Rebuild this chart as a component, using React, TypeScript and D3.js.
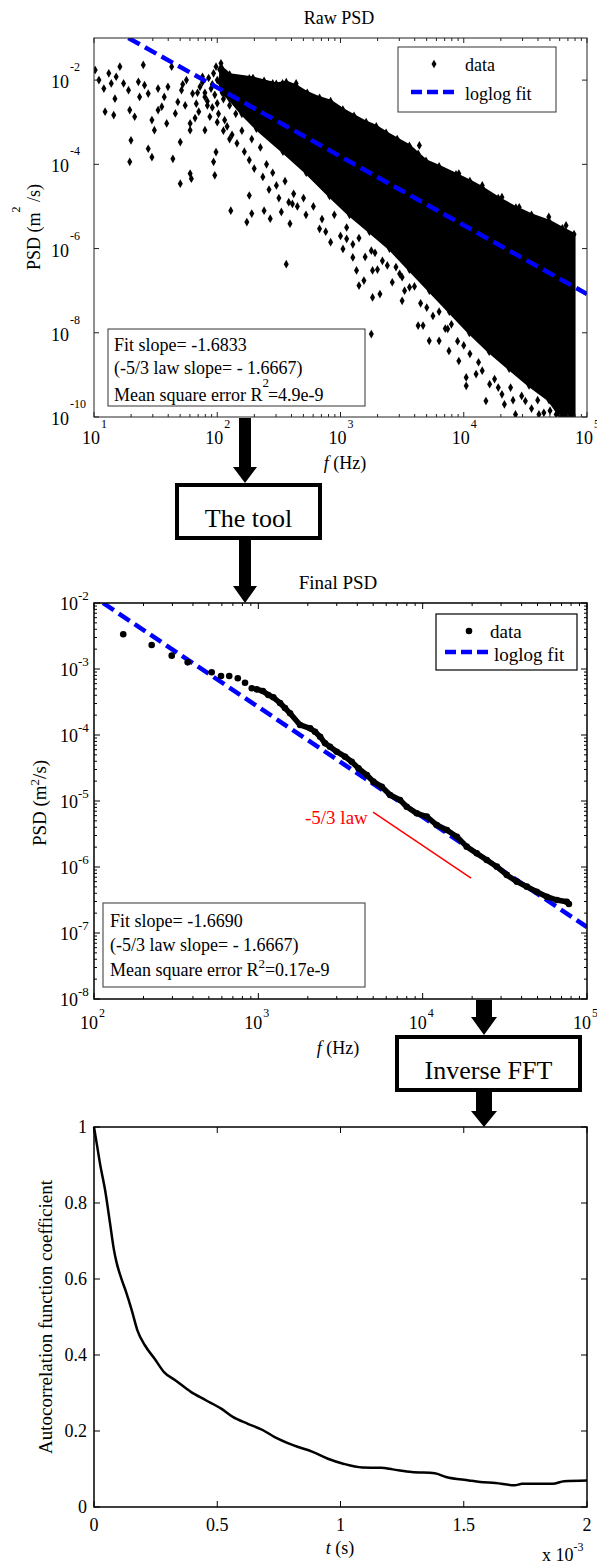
import React from 'react';
import * as d3 from 'd3';

const FONT = '"Liberation Serif", "Times New Roman", Times, serif';

// ---------- Raw PSD (values as [log10 f(Hz), log10 PSD]) ----------
const RAW_X_DECADES = [1, 2, 3, 4, 5];
const RAW_Y_DECADES = [-10, -8, -6, -4, -2];
const RAW_CLOUD_UPPER: [number, number][] = [
  [2.02, -2.05], [2.034, -1.7], [2.101, -1.87], [2.29, -1.95], [2.38, -2.02], [2.479, -2.09], [2.56, -2.05],
  [2.641, -2.14], [2.73, -2.3], [2.83, -2.42], [2.92, -2.5], [3.019, -2.7], [3.11, -2.85], [3.208, -3.0],
  [3.29, -3.1], [3.37, -3.25], [3.46, -3.4], [3.559, -3.56], [3.63, -3.75], [3.694, -3.92], [3.8, -4.05],
  [3.937, -4.24], [4.05, -4.4], [4.152, -4.56], [4.28, -4.8], [4.423, -5.03], [4.55, -5.2],
  [4.692, -5.35], [4.8, -5.52], [4.895, -5.66],
];
const RAW_CLOUD_LOWER: [number, number][] = [
  [4.895, -10.05], [4.8, -10.05], [4.692, -9.6], [4.53, -9.25], [4.368, -8.85], [4.206, -8.45],
  [4.045, -8.0], [3.883, -7.5], [3.721, -7.0], [3.559, -6.5], [3.397, -6.0], [3.235, -5.6],
  [3.073, -5.2], [2.911, -4.75], [2.722, -4.2], [2.533, -3.7], [2.317, -3.15], [2.2, -2.8], [2.1, -2.45],
  [2.04, -2.3],
];
const RAW_SCATTER: [number, number][] = [
  [1.01, -1.76], [1.04, -2.0], [1.08, -2.2], [1.12, -1.84], [1.14, -2.08], [1.18, -1.92], [1.21, -1.68],
  [1.24, -2.08], [1.17, -2.44], [1.09, -2.75], [1.16, -2.83], [1.28, -2.24], [1.29, -2.71], [1.33, -2.87],
  [1.36, -2.04], [1.37, -2.4], [1.4, -1.64], [1.41, -2.12], [1.44, -2.32], [1.47, -2.95], [1.49, -3.19],
  [1.52, -2.2], [1.55, -2.63], [1.57, -2.4], [1.6, -2.16], [1.63, -1.68], [1.66, -2.79], [1.68, -2.52],
  [1.71, -2.24], [1.75, -2.0], [1.78, -3.03], [1.8, -2.32], [1.83, -2.56], [1.86, -2.16], [1.3, -3.43],
  [1.29, -3.94], [1.44, -3.63], [1.47, -3.83], [1.64, -3.87], [1.7, -3.47], [1.7, -4.46], [1.78, -4.22],
  [1.79, -4.34], [1.98, -4.26], [1.97, -3.94], [1.99, -3.71], [1.9, -3.19], [1.94, -2.87], [1.78, -3.19],
  [1.59, -3.03], [1.52, -2.71], [1.88, -1.92], [1.9, -2.4], [1.92, -2.6], [1.85, -2.75], [2.0, -3.0],
  [2.05, -3.2], [2.1, -3.4], [1.96, -2.1], [1.72, -2.1], [1.74, -2.6], [1.82, -2.9], [1.84, -2.3],
  [1.88, -2.05], [1.9, -2.3], [1.92, -2.5], [1.93, -1.95], [1.95, -2.2], [1.96, -2.65], [1.98, -2.35],
  [2.0, -2.0], [2.0, -2.55], [2.01, -2.8], [2.02, -1.75], [2.04, -2.25], [2.05, -2.45], [2.06, -2.95],
  [2.07, -2.1], [2.08, -3.1], [2.1, -2.6], [2.12, -3.3], [2.13, -2.0], [2.15, -2.8], [2.16, -3.5],
  [2.18, -2.3], [2.2, -3.2], [2.22, -3.7], [2.24, -2.6], [2.26, -3.9], [2.28, -3.4], [2.3, -4.1],
  [2.32, -3.0], [2.35, -3.6], [2.37, -4.3], [2.4, -4.0], [2.42, -4.6], [2.45, -4.2], [2.48, -4.5],
  [2.5, -4.8], [2.55, -4.4], [2.58, -4.9], [2.62, -4.7], [2.65, -5.0], [2.7, -4.8], [2.72, -5.2],
  [2.78, -5.0], [2.85, -5.3], [2.88, -5.6], [2.95, -5.2], [3.0, -5.7], [3.05, -5.5], [3.1, -5.9],
  [3.15, -5.75], [3.2, -6.2], [3.28, -6.1], [3.3, -6.5], [3.38, -6.4], [3.42, -6.8], [3.48, -6.6],
  [3.52, -7.0], [3.6, -6.9], [3.65, -7.3], [3.7, -7.4], [3.75, -7.6], [3.8, -7.5], [3.85, -7.9],
  [3.9, -7.8], [3.95, -8.2], [4.0, -8.3], [4.05, -8.5], [4.12, -8.7], [4.15, -8.9], [4.25, -9.1],
  [4.28, -9.3], [4.38, -9.3], [4.4, -9.6], [4.47, -9.5], [4.55, -9.8], [4.6, -9.6], [4.65, -9.9],
  [4.7, -9.85], [4.78, -9.95], [4.85, -9.95],
  [2.11, -5.1], [2.24, -5.37], [2.28, -5.17], [2.26, -4.74], [2.38, -5.1], [2.43, -5.29], [2.52, -5.13],
  [2.59, -5.41], [2.61, -4.94], [2.83, -5.53], [2.92, -5.85], [3.05, -5.77], [3.02, -6.01], [3.1, -6.21],
  [3.13, -6.52], [3.25, -6.05], [3.26, -6.52], [3.26, -7.16], [3.32, -7.08], [3.15, -6.88], [3.19, -6.76],
  [3.34, -6.29], [3.45, -6.44], [3.5, -6.68], [3.56, -6.92], [3.5, -7.24], [3.63, -7.83], [3.67, -7.83],
  [3.72, -8.19], [3.8, -8.19], [3.88, -8.43], [3.87, -7.91], [3.96, -8.67], [4.02, -9.06], [4.02, -9.26],
  [4.1, -8.98], [4.21, -9.22], [4.18, -9.62], [4.31, -9.46], [4.33, -9.7], [4.42, -9.94], [4.5, -9.62],
  [4.61, -9.94], [4.75, -9.94], [2.56, -6.37], [3.25, -8.03],
  [4.15, -4.5], [4.31, -4.78], [4.45, -5.02], [4.69, -5.25], [4.83, -5.45], [3.96, -4.22], [3.64, -3.55],
  [2.53, -2.08], [2.64, -2.08], [2.45, -2.08], [2.26, -1.96], [2.29, -2.08], [1.99, -1.68], [2.03, -1.6],
  [2.05, -1.84], [1.97, -1.84],
];
const RAW_FIT: [number, number][] = [[19, 1e-1], [1e5, 8.3e-8]];

// ---------- Final PSD ----------
const FIN_X_DECADES = [2, 3, 4, 5];
const FIN_Y_DECADES = [-8, -7, -6, -5, -4, -3, -2];
const FIN_DATA: [number, number][] = [
  [2.178, -2.474], [2.351, -2.636], [2.473, -2.798], [2.57, -2.899], [2.716, -3.05], [2.773, -3.106],
  [2.823, -3.106], [2.875, -3.141], [2.919, -3.208], [2.96, -3.292], [2.99, -3.308], [3.027, -3.333],
  [3.061, -3.394], [3.091, -3.429], [3.132, -3.515], [3.162, -3.591], [3.193, -3.671], [3.254, -3.848],
  [3.315, -3.899], [3.345, -3.95], [3.376, -4.026], [3.406, -4.126], [3.436, -4.177], [3.477, -4.253],
  [3.528, -4.329], [3.568, -4.405], [3.609, -4.505], [3.66, -4.606], [3.7, -4.707], [3.751, -4.783],
  [3.802, -4.909], [3.862, -4.985], [3.903, -5.086], [3.964, -5.187], [4.025, -5.237], [4.086, -5.364],
  [4.147, -5.439], [4.208, -5.541], [4.268, -5.692], [4.329, -5.793], [4.39, -5.894], [4.451, -5.995],
  [4.512, -6.121], [4.573, -6.222], [4.634, -6.298], [4.694, -6.374], [4.755, -6.45], [4.816, -6.5],
  [4.877, -6.526], [4.89, -6.56],
];
const FIN_FIT: [number, number][] = [[113.5, 1e-2], [1e5, 1.23e-7]];
const LAW_LINE: [number, number][] = [[4990, 6.8e-6], [19700, 6.8e-7]];

// ---------- Autocorrelation ----------
const ACF_T_MS = [0, 0.011, 0.024, 0.045, 0.065, 0.08, 0.091, 0.111, 0.13, 0.153, 0.176, 0.207, 0.246, 0.284,
  0.331, 0.393, 0.454, 0.516, 0.563, 0.624, 0.686, 0.733, 0.81, 0.887, 0.949, 1.011, 1.088, 1.165, 1.212,
  1.289, 1.382, 1.428, 1.521, 1.567, 1.629, 1.706, 1.737, 1.861, 1.907, 2.0];
const ACF_VAL = [1.0, 0.957, 0.905, 0.834, 0.747, 0.68, 0.645, 0.601, 0.566, 0.518, 0.465, 0.425, 0.39, 0.355,
  0.333, 0.303, 0.281, 0.259, 0.237, 0.219, 0.202, 0.184, 0.162, 0.145, 0.127, 0.114, 0.104, 0.103, 0.099,
  0.092, 0.089, 0.079, 0.07, 0.066, 0.063, 0.057, 0.061, 0.061, 0.068, 0.07];
const ACF_X_TICKS = [0, 0.5, 1, 1.5, 2];
const ACF_Y_TICKS = [0, 0.2, 0.4, 0.6, 0.8, 1];

const TOP = { l: 94, r: 587, t: 38, b: 417 };
const MID = { l: 94, r: 587, t: 603, b: 999 };
const BOT = { l: 94, r: 587, t: 1127, b: 1507 };

const diamond = d3.symbol().type(d3.symbolDiamond).size(22)() as string;

function Arrow({ x, y0, tip, shaftW, headW, headH }: any) {
  const hb = tip - headH;
  const d = `M${x - shaftW / 2},${y0} L${x + shaftW / 2},${y0} L${x + shaftW / 2},${hb} L${x + headW / 2},${hb} L${x},${tip} L${x - headW / 2},${hb} L${x - shaftW / 2},${hb} Z`;
  return <path d={d} fill="#000" />;
}

function logMinor(decades: number[]) {
  const out: number[] = [];
  for (let i = 0; i < decades.length - 1; i++) {
    for (let m = 2; m <= 9; m++) out.push(m * Math.pow(10, decades[i]));
  }
  return out;
}

export default function App() {
  const xT = d3.scaleLog().domain([10, 1e5]).range([TOP.l, TOP.r]);
  const yT = d3.scaleLog().domain([1e-10, 1e-1]).range([TOP.b, TOP.t]);
  const xM = d3.scaleLog().domain([100, 1e5]).range([MID.l, MID.r]);
  const yM = d3.scaleLog().domain([1e-8, 1e-2]).range([MID.b, MID.t]);
  const xB = d3.scaleLinear().domain([0, 2]).range([BOT.l, BOT.r]);
  const yB = d3.scaleLinear().domain([0, 1]).range([BOT.b, BOT.t]);

  const cloud = [...RAW_CLOUD_UPPER, ...RAW_CLOUD_LOWER];
  const cloudPath = d3.line<[number, number]>()
    .x((d) => xT(Math.pow(10, d[0])))
    .y((d) => yT(Math.pow(10, d[1])))(cloud) + 'Z';

  const finLine = d3.line<[number, number]>()
    .x((d) => xM(Math.pow(10, d[0])))
    .y((d) => yM(Math.pow(10, d[1])))(FIN_DATA.filter((d) => d[0] >= 2.99));

  const acfLine = d3.line<number>()
    .x((_, i) => xB(ACF_T_MS[i]))
    .y((d) => yB(d))
    .curve(d3.curveMonotoneX)(ACF_VAL);

  const axisCol = '#222';
  const lbl = 18;
  const sup = 12;

  return (
    <div style={{ position: 'absolute', left: 0, top: 0 }}>
      <svg width={597} height={1564} style={{ display: 'block', fontFamily: FONT }}>
        <rect x={0} y={0} width={597} height={1564} fill="#fff" />
        <defs>
          <clipPath id="cTop"><rect x={TOP.l} y={TOP.t} width={TOP.r - TOP.l} height={TOP.b - TOP.t} /></clipPath>
          <clipPath id="cMid"><rect x={MID.l} y={MID.t} width={MID.r - MID.l} height={MID.b - MID.t} /></clipPath>
        </defs>

        {/* ================= TOP: Raw PSD ================= */}
        <text x={339} y={24} fontSize={18} textAnchor="middle">Raw PSD</text>
        <g clipPath="url(#cTop)">
          <path d={cloudPath} fill="#000" stroke="#000" strokeWidth={3} strokeLinejoin="round" />
          {[...RAW_SCATTER, ...RAW_CLOUD_UPPER, ...RAW_CLOUD_LOWER].map((d, i) => (
            <path key={i} d={diamond} fill="#000"
              transform={`translate(${xT(Math.pow(10, d[0]))},${yT(Math.pow(10, d[1]))})`} />
          ))}
          <line x1={xT(RAW_FIT[0][0])} y1={yT(RAW_FIT[0][1])} x2={xT(RAW_FIT[1][0])} y2={yT(RAW_FIT[1][1])}
            stroke="#0000ff" strokeWidth={4.5} strokeDasharray="13,6" />
        </g>
        <rect x={TOP.l} y={TOP.t} width={TOP.r - TOP.l} height={TOP.b - TOP.t} fill="none" stroke={axisCol} strokeWidth={1} />
        {RAW_X_DECADES.map((e) => {
          const x = xT(Math.pow(10, e));
          return (
            <g key={'tx' + e}>
              <line x1={x} x2={x} y1={TOP.b} y2={TOP.b - 5} stroke={axisCol} />
              <line x1={x} x2={x} y1={TOP.t} y2={TOP.t + 5} stroke={axisCol} />
              <text x={x + 6} y={444} fontSize={lbl} textAnchor="end">10</text>
              <text x={x + 7} y={428} fontSize={sup}>{e}</text>
            </g>
          );
        })}
        {logMinor(RAW_X_DECADES).map((v, i) => {
          const x = xT(v);
          return (
            <g key={'tmx' + i}>
              <line x1={x} x2={x} y1={TOP.b} y2={TOP.b - 3} stroke={axisCol} />
              <line x1={x} x2={x} y1={TOP.t} y2={TOP.t + 3} stroke={axisCol} />
            </g>
          );
        })}
        {RAW_Y_DECADES.map((e) => {
          const y = yT(Math.pow(10, e));
          return (
            <g key={'ty' + e}>
              <line x1={TOP.l} x2={TOP.l + 5} y1={y} y2={y} stroke={axisCol} />
              <line x1={TOP.r} x2={TOP.r - 5} y1={y} y2={y} stroke={axisCol} />
              <text x={69} y={y + 8} fontSize={lbl} textAnchor="end">10</text>
              <text x={70} y={y - 9} fontSize={sup}>{e}</text>
            </g>
          );
        })}
        <text x={345} y={469} fontSize={lbl} textAnchor="middle"><tspan fontStyle="italic">f</tspan> (Hz)</text>
        <text transform="translate(40,227) rotate(-90)" fontSize={lbl} textAnchor="middle">
          PSD (m<tspan dy={-20} fontSize={sup}>2</tspan><tspan dy={20}> /s)</tspan>
        </text>
        {/* legend */}
        <rect x={398} y={47} width={158} height={65} fill="#fff" stroke="#333" strokeWidth={1} />
        <path d={diamond} fill="#000" transform="translate(434,64)" />
        <text x={465} y={71} fontSize={lbl}>data</text>
        <line x1={411} x2={455} y1={92} y2={92} stroke="#0000ff" strokeWidth={4.5} strokeDasharray="11,5" />
        <text x={465} y={100} fontSize={lbl}>loglog fit</text>
        {/* stats box */}
        <rect x={108} y={329} width={257} height={77} fill="#fff" stroke="#333" strokeWidth={1} />
        <text x={114} y={351} fontSize={lbl}>Fit slope= -1.6833</text>
        <text x={114} y={374} fontSize={lbl}>(-5/3 law slope= - 1.6667)</text>
        <text x={114} y={401} fontSize={lbl}>Mean square error R<tspan dy={-14} fontSize={sup + 1}>2</tspan><tspan dy={14} dx={-1}>=4.9e-9</tspan></text>

        {/* ================= Flow: The tool ================= */}
        <Arrow x={245} y0={418} tip={483} shaftW={12} headW={24} headH={16} />
        <rect x={177} y={485} width={143} height={53} fill="#fff" stroke="#000" strokeWidth={4} />
        <text x={248.5} y={527} fontSize={26} textAnchor="middle">The tool</text>
        <Arrow x={245} y0={540} tip={603} shaftW={12} headW={24} headH={17} />

        {/* ================= MIDDLE: Final PSD ================= */}
        <text x={338} y={589} fontSize={19} textAnchor="middle">Final PSD</text>
        <g clipPath="url(#cMid)">
          <line x1={xM(FIN_FIT[0][0])} y1={yM(FIN_FIT[0][1])} x2={xM(FIN_FIT[1][0])} y2={yM(FIN_FIT[1][1])}
            stroke="#0000ff" strokeWidth={4.5} strokeDasharray="13,6" />
          <path d={finLine as string} fill="none" stroke="#000" strokeWidth={5.5} strokeLinejoin="round" strokeLinecap="round" />
          {FIN_DATA.map((d, i) => (
            <circle key={i} cx={xM(Math.pow(10, d[0]))} cy={yM(Math.pow(10, d[1]))} r={3.3} fill="#000" />
          ))}
          <line x1={xM(LAW_LINE[0][0])} y1={yM(LAW_LINE[0][1])} x2={xM(LAW_LINE[1][0])} y2={yM(LAW_LINE[1][1])}
            stroke="#ff0000" strokeWidth={1.5} />
        </g>
        <text x={305} y={824} fontSize={19} fill="#ff0000">-5/3 law</text>
        <rect x={MID.l} y={MID.t} width={MID.r - MID.l} height={MID.b - MID.t} fill="none" stroke="#000" strokeWidth={1.5} />
        {FIN_X_DECADES.map((e) => {
          const x = xM(Math.pow(10, e));
          return (
            <g key={'mx' + e}>
              <line x1={x} x2={x} y1={MID.b} y2={MID.b - 6} stroke="#000" />
              <line x1={x} x2={x} y1={MID.t} y2={MID.t + 6} stroke="#000" />
              <text x={x + 4} y={1029} fontSize={lbl} textAnchor="end">10</text>
              <text x={x + 5} y={1017} fontSize={sup}>{e}</text>
            </g>
          );
        })}
        {logMinor(FIN_X_DECADES).map((v, i) => {
          const x = xM(v);
          return (
            <g key={'mmx' + i}>
              <line x1={x} x2={x} y1={MID.b} y2={MID.b - 3} stroke="#000" />
              <line x1={x} x2={x} y1={MID.t} y2={MID.t + 3} stroke="#000" />
            </g>
          );
        })}
        {FIN_Y_DECADES.map((e) => {
          const y = yM(Math.pow(10, e));
          return (
            <g key={'my' + e}>
              <line x1={MID.l} x2={MID.l + 6} y1={y} y2={y} stroke="#000" />
              <line x1={MID.r} x2={MID.r - 6} y1={y} y2={y} stroke="#000" />
              <text x={78} y={y + 7} fontSize={lbl} textAnchor="end">10</text>
              <text x={78} y={y - 3} fontSize={sup + 1}>{e}</text>
            </g>
          );
        })}
        {logMinor(FIN_Y_DECADES).map((v, i) => {
          const y = yM(v);
          return (
            <g key={'mmy' + i}>
              <line x1={MID.l} x2={MID.l + 3} y1={y} y2={y} stroke="#000" />
              <line x1={MID.r} x2={MID.r - 3} y1={y} y2={y} stroke="#000" />
            </g>
          );
        })}
        <text x={338} y={1054} fontSize={lbl} textAnchor="middle"><tspan fontStyle="italic">f</tspan> (Hz)</text>
        <text transform="translate(46,803) rotate(-90)" fontSize={19} textAnchor="middle">
          PSD (m<tspan dy={-7} fontSize={sup + 1}>2</tspan><tspan dy={7}>/s)</tspan>
        </text>
        {/* legend */}
        <rect x={436} y={614} width={141} height={56} fill="#fff" stroke="#000" strokeWidth={1.2} />
        <circle cx={469} cy={631} r={3.3} fill="#000" />
        <text x={490} y={638} fontSize={19}>data</text>
        <line x1={445} x2={490} y1={652} y2={652} stroke="#0000ff" strokeWidth={4.5} strokeDasharray="11,5" />
        <text x={494} y={661} fontSize={19}>loglog fit</text>
        {/* stats box */}
        <rect x={103} y={903} width={262} height={84} fill="#fff" stroke="#555" strokeWidth={1.2} />
        <text x={110} y={927} fontSize={lbl}>Fit slope= -1.6690</text>
        <text x={110} y={951} fontSize={lbl}>(-5/3 law slope= - 1.6667)</text>
        <text x={110} y={976} fontSize={lbl}>Mean square error R<tspan dy={-8} fontSize={sup + 1}>2</tspan><tspan dy={8}>=0.17e-9</tspan></text>

        {/* ================= Flow: Inverse FFT ================= */}
        <Arrow x={484} y0={1000} tip={1035} shaftW={16} headW={26} headH={18} />
        <rect x={397} y={1037} width={183} height={53} fill="#fff" stroke="#000" strokeWidth={4} />
        <text x={488.5} y={1079} fontSize={26} textAnchor="middle">Inverse FFT</text>
        <Arrow x={484} y0={1092} tip={1127} shaftW={16} headW={26} headH={16} />

        {/* ================= BOTTOM: Autocorrelation ================= */}
        <path d={acfLine as string} fill="none" stroke="#000" strokeWidth={2.5} strokeLinejoin="round" />
        <rect x={BOT.l} y={BOT.t} width={BOT.r - BOT.l} height={BOT.b - BOT.t} fill="none" stroke="#000" strokeWidth={1.5} />
        {ACF_X_TICKS.map((t) => {
          const x = xB(t);
          return (
            <g key={'bx' + t}>
              <line x1={x} x2={x} y1={BOT.b} y2={BOT.b - 6} stroke="#000" />
              <line x1={x} x2={x} y1={BOT.t} y2={BOT.t + 6} stroke="#000" />
              <text x={x} y={1531} fontSize={lbl} textAnchor="middle">{String(t)}</text>
            </g>
          );
        })}
        {ACF_Y_TICKS.map((v) => {
          const y = yB(v);
          return (
            <g key={'by' + v}>
              <line x1={BOT.l} x2={BOT.l + 6} y1={y} y2={y} stroke="#000" />
              <line x1={BOT.r} x2={BOT.r - 6} y1={y} y2={y} stroke="#000" />
              <text x={87} y={y + 6} fontSize={lbl} textAnchor="end">{String(v)}</text>
            </g>
          );
        })}
        <text x={340} y={1554} fontSize={lbl} textAnchor="middle"><tspan fontStyle="italic">t</tspan> (s)</text>
        <text x={542} y={1561} fontSize={lbl}>x 10<tspan dy={-10} fontSize={sup}>-3</tspan></text>
        <text transform="translate(52,1317) rotate(-90)" fontSize={19} textAnchor="middle">Autocorrelation function coefficient</text>
      </svg>
    </div>
  );
}
